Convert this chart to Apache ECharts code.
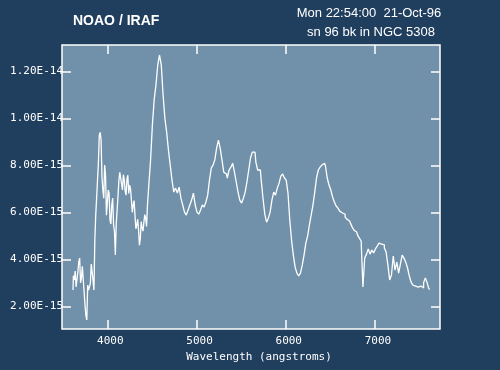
<!DOCTYPE html>
<html>
<head>
<meta charset="utf-8">
<script src="https://cdn.jsdelivr.net/npm/echarts@6/dist/echarts.min.js"></script>
<style>
html,body{margin:0;padding:0;background:#203f5e;}
#chart{width:500px;height:370px;}
</style>
</head>
<body>
<div id="chart"></div>
<script>
// Wavelength (angstroms)
const wavelength = [
3615,3625,3635,3645,3655,3665,3675,3685,3695,3705,
3715,3725,3735,3745,3755,3765,3775,3785,3795,3805,
3815,3825,3835,3845,3855,3865,3875,3885,3895,3905,
3915,3925,3935,3945,3955,3965,3975,3985,3995,4005,
4015,4025,4035,4045,4055,4065,4075,4085,4095,4105,
4115,4125,4135,4145,4155,4165,4175,4185,4195,4205,
4215,4225,4235,4245,4255,4265,4275,4285,4295,4305,
4315,4325,4335,4345,4355,4365,4375,4385,4395,4405,
4415,4425,4435,4445,4455,
4475,4495,4515,4535,4555,4575,4595,
4615,4635,4655,4675,4695,4715,4735,4755,4775,4795,
4815,4835,4855,4875,4895,4915,4935,4955,4975,4995,
5015,5035,5055,5075,5095,5115,5135,5155,5175,5195,
5215,5235,5255,5275,5295,5315,5335,5355,5375,5395,
5415,5435,5455,5475,5495,5515,5535,5555,5575,5595,
5615,5635,5655,5675,5695,5715,5735,5755,5775,5795,
5815,5835,5855,5875,5895,5915,5935,5955,5975,5995,
6015,6035,6055,6075,6095,6115,6135,6155,6175,6195,
6215,6235,6255,6275,6295,6315,6335,6355,6375,6395,
6415,6435,6455,6475,6495,6515,6535,6555,6575,6595,
6615,6635,6655,6675,6695,6715,6735,6755,6775,6795,
6815,6835,6855,6875,6895,6915,6935,6955,6975,6995,
7015,7035,7055,7075,7095,7115,7135,7155,7175,7195,
7215,7235,7255,7275,7295,7315,7335,7355,7375,7395,
7415,7435,7455,7475,7495,7515,7535,7555,7575,7595,
7615
];
// Flux in units of 1E-15
const flux = [
2.69,3.30,3.12,3.50,2.82,2.90,3.46,3.90,4.05,3.00,
3.20,3.70,3.75,2.60,2.05,1.60,1.42,2.90,2.69,2.70,
2.99,3.80,3.75,3.10,2.69,4.80,5.88,6.60,7.37,8.10,
9.29,9.40,9.07,7.50,6.95,6.60,8.01,7.60,5.88,6.40,
6.95,6.80,5.67,5.50,6.31,6.60,5.46,5.20,4.18,5.50,
6.10,6.70,7.37,7.70,7.71,7.20,6.95,7.60,7.37,6.90,
6.73,7.40,7.58,6.80,7.16,7.00,6.52,6.00,6.31,6.50,
5.88,5.30,5.46,5.70,5.25,4.60,4.90,5.60,5.33,5.20,
5.58,5.90,5.75,5.40,6.31,
7.16,8.23,9.71,10.78,11.41,12.26,12.69,
12.26,10.99,10.01,9.41,8.65,8.01,7.37,6.86,7.03,6.82,
7.07,6.60,6.31,6.01,5.88,6.10,6.31,6.52,6.82,6.31,
6.01,5.92,6.10,6.31,6.22,6.44,6.73,7.37,7.88,8.01,
8.23,8.73,9.07,8.73,8.23,7.71,7.63,7.46,7.80,7.92,
8.09,7.71,7.29,6.86,6.52,6.39,6.60,6.86,7.29,7.80,
8.31,8.56,8.56,8.14,7.80,7.80,7.37,6.60,5.92,5.58,
5.75,6.01,6.52,6.86,6.73,7.03,7.24,7.54,7.63,7.46,
7.37,6.82,5.67,4.82,4.18,3.67,3.41,3.29,3.41,3.75,
4.18,4.69,4.99,5.46,5.88,6.31,6.86,7.46,7.80,7.92,
8.01,8.09,7.97,7.46,7.16,6.95,6.65,6.44,6.27,6.18,
6.05,5.97,5.92,5.80,5.71,5.63,5.54,5.37,5.24,5.16,
5.03,4.90,4.78,2.82,4.05,4.22,4.44,4.22,4.39,4.27,
4.44,4.56,4.69,4.65,4.61,4.48,4.31,3.75,3.12,3.33,
4.14,3.54,3.88,3.41,3.80,4.18,4.05,3.88,3.63,3.29,
3.03,2.90,2.86,2.82,2.78,2.86,2.78,3.00,3.20,3.00,
2.73
];
const xTicks = [4000, 5000, 6000, 7000];
const yTicks = [2, 4, 6, 8, 10, 12];
const titleText = 'NOAO / IRAF';
const dateText = 'Mon 22:54:00  21-Oct-96';
const objectText = 'sn 96 bk in NGC 5308';
const xTitle = 'Wavelength (angstroms)';

const fmtY = v => v >= 10 ? (v / 10).toFixed(2) + 'E-14' : v.toFixed(2) + 'E-15';
const mono = 'DejaVu Sans Mono';
const tickStyle = {color: '#ffffff', width: 1.5};

const chart = echarts.init(document.getElementById('chart'), null, {renderer: 'canvas'});
const xBase = {
  type: 'value', min: 3492, max: 7729,
  axisLine: {show: false},
  splitLine: {show: false},
  axisTick: {show: true, inside: true, length: 9, lineStyle: tickStyle, customValues: xTicks}
};
const yBase = {
  type: 'value', min: 1.034, max: 13.12,
  axisLine: {show: false},
  splitLine: {show: false},
  axisTick: {show: true, inside: true, length: 9, lineStyle: tickStyle, customValues: yTicks}
};
chart.setOption({
  backgroundColor: '#203f5e',
  animation: false,
  grid: {left: 62, right: 60, top: 45, bottom: 41, show: true,
         backgroundColor: '#7091a9', borderColor: '#ffffff', borderWidth: 1.5},
  xAxis: [
    Object.assign({}, xBase, {
      position: 'bottom',
      name: xTitle, nameLocation: 'middle', nameGap: 22,
      nameTextStyle: {color: '#ffffff', fontFamily: mono, fontSize: 11, padding: [0, 0, 0, 16]},
      axisLabel: {color: '#ffffff', fontFamily: mono, fontSize: 11, margin: 7,
                  padding: [0, 0, 0, 6], customValues: xTicks, formatter: v => String(v)}
    }),
    Object.assign({}, xBase, {position: 'top', axisLabel: {show: false}})
  ],
  yAxis: [
    Object.assign({}, yBase, {
      position: 'left',
      axisLabel: {color: '#ffffff', fontFamily: mono, fontSize: 11, margin: -1,
                  customValues: yTicks, formatter: fmtY}
    }),
    Object.assign({}, yBase, {position: 'right', axisLabel: {show: false}})
  ],
  series: [{
    type: 'line',
    data: wavelength.map((w, i) => [w, flux[i]]),
    step: 'middle',
    showSymbol: false,
    lineStyle: {color: '#ffffff', width: 1.3},
    silent: true
  }],
  graphic: [
    {type: 'text', x: 73, y: 21, style: {text: titleText, fill: '#ffffff',
      font: 'bold 14px "Liberation Sans", Arial, sans-serif', textVerticalAlign: 'middle'}},
    {type: 'text', x: 369, y: 13, style: {text: dateText, fill: '#ffffff',
      font: '13px "Liberation Sans", Arial, sans-serif', textAlign: 'center', textVerticalAlign: 'middle'}},
    {type: 'text', x: 371, y: 32, style: {text: objectText, fill: '#ffffff',
      font: '13px "Liberation Sans", Arial, sans-serif', textAlign: 'center', textVerticalAlign: 'middle'}}
  ]
});
</script>
</body>
</html>
